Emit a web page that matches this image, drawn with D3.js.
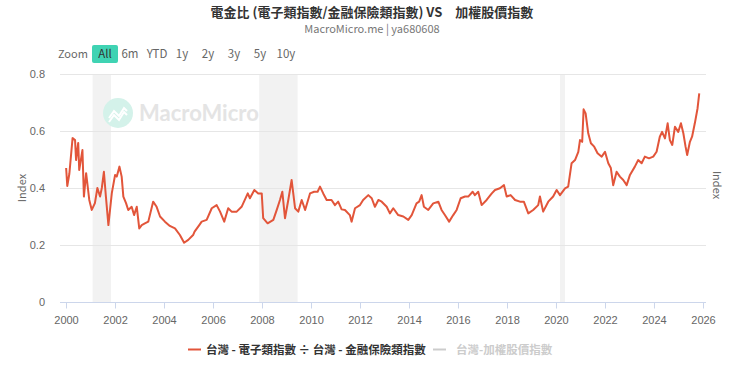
<!DOCTYPE html>
<meta charset="utf-8">
<style>
    body { margin: 0; background: #fff; }
    svg { font-family: "Noto Sans CJK TC", "Noto Sans", sans-serif; }
    .grid line { stroke: #e6e6e6; }
    .axis text { fill: #666; font-size: 11px; }
</style>
<body>
<script src="https://cdn.jsdelivr.net/npm/d3@7"></script>
<script>
    // ratio series: electronics index / finance & insurance index
    var dates = [
        "2000-01-03","2000-01-20","2000-02-20","2000-04-08","2000-05-15","2000-05-30","2000-07-01","2000-07-16",
        "2000-09-02","2000-09-24","2000-10-27","2000-12-13","2001-01-19","2001-03-07","2001-04-13","2001-05-23",
        "2001-06-18","2001-07-19","2001-08-18","2001-09-24","2001-11-14","2002-01-02","2002-01-27","2002-03-08",
        "2002-04-10","2002-05-05","2002-06-14","2002-07-17","2002-09-06","2002-10-12","2002-11-21","2002-12-28",
        "2003-02-03","2003-03-22","2003-05-12","2003-07-23","2003-09-13","2003-11-03","2004-01-15","2004-03-28",
        "2004-06-13","2004-08-25","2004-10-27","2004-12-28","2005-03-10","2005-04-01","2005-06-10","2005-07-16",
        "2005-09-28","2005-12-13","2006-02-24","2006-04-16","2006-06-17","2006-08-15","2006-10-05","2006-12-20",
        "2007-03-03","2007-06-03","2007-07-05","2007-09-09","2007-11-06","2007-12-28","2008-01-19","2008-03-25",
        "2008-06-18","2008-08-08","2008-09-25","2008-10-30","2008-12-09","2009-01-27","2009-03-18","2009-05-08",
        "2009-06-25","2009-08-15","2009-10-05","2009-12-17","2010-02-17","2010-04-09","2010-05-15","2010-07-02",
        "2010-08-22","2010-11-03","2010-12-24","2011-02-10","2011-04-02","2011-05-22","2011-08-03","2011-08-29",
        "2011-10-19","2012-01-01","2012-02-17","2012-05-04","2012-06-24","2012-08-11","2012-10-01","2012-11-20",
        "2013-02-02","2013-03-22","2013-05-11","2013-07-24","2013-10-08","2013-12-21","2014-02-10","2014-04-23",
        "2014-06-01","2014-07-08","2014-08-11","2014-10-15","2014-12-28","2015-03-14","2015-05-01","2015-06-20",
        "2015-08-22","2015-10-22","2015-12-12","2016-02-10","2016-04-15","2016-06-02","2016-08-07","2016-09-09",
        "2016-10-29","2016-12-19","2017-03-03","2017-05-19","2017-07-06","2017-09-17","2017-11-17","2017-12-27",
        "2018-02-24","2018-05-01","2018-07-13","2018-09-09","2018-11-14","2019-01-26","2019-04-11","2019-05-07",
        "2019-06-24","2019-09-08","2019-11-20","2020-01-11","2020-03-01","2020-05-15","2020-07-01","2020-08-21",
        "2020-10-11","2020-11-29","2020-12-24","2021-01-26","2021-02-16","2021-03-18","2021-04-26","2021-06-05",
        "2021-07-24","2021-09-12","2021-11-13","2022-01-01","2022-02-19","2022-03-29","2022-05-03","2022-06-23",
        "2022-08-11","2022-09-30","2022-11-20","2023-01-08","2023-03-22","2023-05-11","2023-07-01","2023-08-18",
        "2023-10-19","2023-12-21","2024-02-09","2024-03-28","2024-05-01","2024-06-13","2024-07-23","2024-08-25",
        "2024-09-30","2024-11-09","2024-12-28","2025-02-06","2025-03-14","2025-04-16","2025-05-10","2025-06-20",
        "2025-07-22","2025-09-01","2025-10-12","2025-11-06"
    ];
    var ratio = [
        0.470,0.407,0.450,0.575,0.568,0.498,0.558,0.463,
        0.533,0.370,0.452,0.358,0.323,0.347,0.400,0.370,
        0.400,0.457,0.370,0.270,0.382,0.446,0.440,0.475,
        0.440,0.370,0.347,0.323,0.334,0.305,0.334,0.258,
        0.270,0.276,0.282,0.352,0.334,0.300,0.282,0.267,
        0.258,0.235,0.208,0.218,0.235,0.247,0.270,0.282,
        0.288,0.329,0.340,0.317,0.282,0.329,0.317,0.317,
        0.334,0.381,0.364,0.393,0.381,0.381,0.294,0.276,
        0.288,0.323,0.358,0.387,0.294,0.358,0.428,0.329,
        0.317,0.358,0.323,0.381,0.387,0.387,0.405,0.381,
        0.358,0.358,0.340,0.352,0.325,0.323,0.305,0.282,
        0.329,0.340,0.358,0.375,0.364,0.334,0.358,0.352,
        0.334,0.311,0.329,0.305,0.300,0.288,0.305,0.346,
        0.352,0.375,0.334,0.323,0.346,0.352,0.323,0.305,
        0.282,0.305,0.323,0.364,0.370,0.370,0.387,0.375,
        0.387,0.340,0.358,0.381,0.393,0.399,0.410,0.370,
        0.375,0.358,0.352,0.352,0.311,0.323,0.340,0.370,
        0.317,0.352,0.370,0.393,0.375,0.399,0.405,0.487,
        0.498,0.527,0.568,0.562,0.676,0.662,0.592,0.557,
        0.545,0.522,0.510,0.527,0.487,0.470,0.410,0.457,
        0.440,0.428,0.410,0.446,0.475,0.498,0.487,0.510,
        0.504,0.510,0.527,0.580,0.597,0.574,0.627,0.568,
        0.551,0.615,0.597,0.627,0.592,0.545,0.516,0.562,
        0.580,0.627,0.680,0.732
    ];
    var recessions = [["2001-02-01", "2001-11-01"], ["2007-11-20", "2009-06-15"], ["2020-03-01", "2020-05-15"]];
    var yTicks = [0, 0.2, 0.4, 0.6, 0.8];
    var xTickYears = [2000, 2002, 2004, 2006, 2008, 2010, 2012, 2014, 2016, 2018, 2020, 2022, 2024, 2026];
    var rangeButtons = ["All", "6m", "YTD", "1y", "2y", "3y", "5y", "10y"];
    var legendNames = ["台灣 - 電子類指數 ÷ 台灣 - 金融保險類指數", "台灣-加權股價指數"];

    var width = 740, height = 372,
        plotLeft = 60, plotRight = 706, plotTop = 74, plotBottom = 302;

    var parse = d3.timeParse("%Y-%m-%d");
    var series = dates.map(function(d, i) { return { date: parse(d), value: ratio[i] }; });

    var svg = d3.select("body").append("svg")
        .attr("width", width)
        .attr("height", height);

    var x = d3.scaleTime()
        .domain([new Date(2000, 0, 1), new Date(2026, 0, 1)])
        .range([66, 703]);
    var y = d3.scaleLinear()
        .domain([0, 0.8])
        .range([plotBottom, plotTop]);

    // title
    svg.append("text")
        .attr("x", 372).attr("y", 17)
        .attr("text-anchor", "middle")
        .style("font-size", "13px").style("font-weight", "bold").style("fill", "#333")
        .text("電金比 (電子類指數/金融保險類指數) VS　加權股價指數");
    svg.append("text")
        .attr("x", 372).attr("y", 33)
        .attr("text-anchor", "middle")
        .style("font-size", "11px").style("fill", "#777")
        .text("MacroMicro.me | ya680608");

    // range selector
    svg.append("text")
        .attr("x", 58).attr("y", 58)
        .style("font-size", "11px").style("fill", "#666")
        .text("Zoom");
    var btnX = [105, 130, 157, 182, 208, 234, 260, 286];
    svg.append("rect")
        .attr("x", 92).attr("y", 45).attr("width", 26).attr("height", 18).attr("rx", 2)
        .style("fill", "#3fd3b3");
    svg.selectAll("text.btn")
        .data(rangeButtons).enter()
        .append("text")
        .attr("class", "btn")
        .attr("x", function(d, i) { return btnX[i]; })
        .attr("y", 58)
        .attr("text-anchor", "middle")
        .style("font-size", "11.5px")
        .style("fill", function(d, i) { return i === 0 ? "#333" : "#666"; })
        .text(function(d) { return d; });

    // recession bands
    svg.selectAll("rect.band")
        .data(recessions).enter()
        .append("rect")
        .attr("class", "band")
        .attr("x", function(d) { return x(parse(d[0])); })
        .attr("width", function(d) { return x(parse(d[1])) - x(parse(d[0])); })
        .attr("y", plotTop)
        .attr("height", plotBottom - plotTop)
        .style("fill", "#f2f2f2");

    // grid
    svg.append("g").attr("class", "grid")
        .selectAll("line")
        .data(yTicks.slice(1)).enter()
        .append("line")
        .attr("x1", plotLeft).attr("x2", plotRight)
        .attr("y1", function(d) { return y(d) + 0.5; })
        .attr("y2", function(d) { return y(d) + 0.5; });

    // watermark
    var wm = svg.append("g").attr("transform", "translate(118,113)");
    wm.append("circle").attr("r", 15).style("fill", "#d4f2ea");
    wm.append("polyline")
        .attr("points", "-9,5 -4,-2 1,3 6,-5 9,-2")
        .style("fill", "none").style("stroke", "#fff").style("stroke-width", 2);
    wm.append("polyline")
        .attr("points", "-9,9 -4,2 1,7 6,-1 9,2")
        .style("fill", "none").style("stroke", "#fff").style("stroke-width", 2);
    svg.append("text")
        .attr("x", 139).attr("y", 121)
        .style("font-family", "Lato, 'Noto Sans', sans-serif")
        .style("font-size", "22px").style("font-weight", "bold").style("fill", "#e4e4e4")
        .text("MacroMicro");

    // axes
    var yAxis = svg.append("g").attr("class", "axis")
        .attr("transform", "translate(48,0)")
        .call(d3.axisLeft(y).tickValues(yTicks).tickSize(0).tickFormat(d3.format("~g")));
    yAxis.select(".domain").remove();

    var xAxis = svg.append("g").attr("class", "axis")
        .attr("transform", "translate(0," + (plotBottom + 0.5) + ")")
        .call(d3.axisBottom(x)
            .tickValues(xTickYears.map(function(yr) { return new Date(yr, 0, 1); }))
            .tickSize(6).tickPadding(8)
            .tickFormat(d3.timeFormat("%Y")));
    xAxis.select(".domain").attr("d", "M" + plotLeft + ",0H" + plotRight).style("stroke", "#ccd6eb");
    xAxis.selectAll(".tick line").style("stroke", "#ccd6eb");

    svg.append("text")
        .attr("transform", "translate(26,188) rotate(-90)")
        .attr("text-anchor", "middle")
        .style("font-size", "11px").style("fill", "#666")
        .text("Index");
    svg.append("text")
        .attr("transform", "translate(713,185) rotate(90)")
        .attr("text-anchor", "middle")
        .style("font-size", "11px").style("fill", "#666")
        .text("Index");

    // series line
    var line = d3.line()
        .x(function(d) { return x(d.date); })
        .y(function(d) { return y(d.value); });
    svg.append("path")
        .datum(series)
        .attr("d", line)
        .style("fill", "none")
        .style("stroke", "#e2553a")
        .style("stroke-width", 2)
        .style("stroke-linejoin", "round");

    // legend
    var legend = svg.append("g");
    legend.append("line").attr("x1", 188).attr("x2", 201).attr("y1", 349.5).attr("y2", 349.5)
        .style("stroke", "#e2553a").style("stroke-width", 2);
    legend.append("text").attr("x", 206).attr("y", 354)
        .style("font-size", "11.5px").style("font-weight", "bold").style("fill", "#333")
        .text(legendNames[0]);
    legend.append("line").attr("x1", 433).attr("x2", 446).attr("y1", 349.5).attr("y2", 349.5)
        .style("stroke", "#ccc").style("stroke-width", 2);
    legend.append("text").attr("x", 456).attr("y", 354)
        .style("font-size", "11.5px").style("font-weight", "bold").style("fill", "#ccc")
        .text(legendNames[1]);
</script>
</body>
